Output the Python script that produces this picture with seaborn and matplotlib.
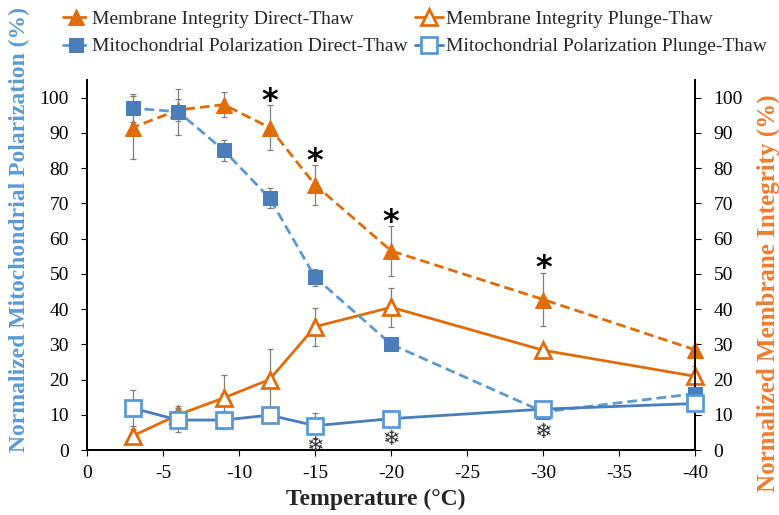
"""
Membrane integrity and mitochondrial polarization vs. temperature.
"""

import matplotlib
matplotlib.use("Agg")
import matplotlib.pyplot as plt
import seaborn as sns
import pandas as pd

# data
temps = [-3, -6, -9, -12, -15, -20, -30, -40]

mito_direct = [97.0, 96.0, 85.0, 71.5, 49.0, 30.0, 10.8, 16.0]
mito_direct_err = [4.0, 6.5, 3.0, 2.8, 2.5, 1.0, 1.0, 1.0]
mito_plunge = [11.9, 8.5, 8.5, 9.9, 6.9, 8.9, 11.6, 13.2]
mito_plunge_err = [5.0, 3.5, 2.5, 2.0, 3.5, 1.0, 1.0, 1.0]

memb_direct = [91.5, 96.5, 98.0, 91.5, 75.2, 56.5, 42.7, 28.4]
memb_direct_err = [9.0, 3.0, 3.5, 6.5, 5.6, 7.0, 7.5, 1.0]
memb_plunge = [4.0, 10.0, 14.8, 20.0, 35.0, 40.5, 28.3, 20.9]
memb_plunge_err = [2.0, 2.5, 6.5, 8.7, 5.4, 5.6, 1.0, 3.0]

star_temps = [-12, -15, -20, -30]
star_y = [99.0, 82.0, 64.5, 51.5]
flake_temps = [-15, -20, -30]
flake_y = [1.0, 3.2, 5.0]

BLUE = "#4A7EBB"
BLUE_LIGHT = "#5B9BD5"
ORANGE = "#E36C0A"
GREY = "#808080"

sns.set_theme(style="white")
plt.rcParams["font.family"] = ["Liberation Serif", "DejaVu Sans"]

fig = plt.figure(figsize=(7.79, 5.15), dpi=100)
ax = fig.add_axes([0.1117, 0.1262, 0.781, 0.7185])
ax2 = ax.twinx()
# mitochondrial series drawn on top
ax.set_zorder(ax2.get_zorder() + 1)
ax.patch.set_visible(False)

df = pd.DataFrame({"temp": temps, "mito_d": mito_direct, "mito_p": mito_plunge,
                   "memb_d": memb_direct, "memb_p": memb_plunge})

# error bars first, behind the markers
ekw = dict(fmt="none", ecolor=GREY, elinewidth=0.9, capsize=2.5, capthick=0.9, zorder=1)
ax.errorbar(temps, mito_direct, yerr=mito_direct_err, **ekw)
ax.errorbar(temps, mito_plunge, yerr=mito_plunge_err, **ekw)
ax2.errorbar(temps, memb_direct, yerr=memb_direct_err, **ekw)
ax2.errorbar(temps, memb_plunge, yerr=memb_plunge_err, **ekw)

sns.lineplot(data=df, x="temp", y="mito_d", ax=ax, color=BLUE_LIGHT, linestyle=(0, (3.5, 1.8)),
             linewidth=2, marker="s", markersize=10, markerfacecolor=BLUE, markeredgecolor=BLUE,
             label="Mitochondrial Polarization Direct-Thaw", zorder=3, clip_on=False)
sns.lineplot(data=df, x="temp", y="mito_p", ax=ax, color=BLUE, linewidth=2, marker="s",
             markersize=11, markerfacecolor="white", markeredgecolor=BLUE_LIGHT, markeredgewidth=2,
             label="Mitochondrial Polarization Plunge-Thaw", zorder=3, clip_on=False)
sns.lineplot(data=df, x="temp", y="memb_d", ax=ax2, color=ORANGE, linestyle=(0, (3.5, 1.8)),
             linewidth=2, marker="^", markersize=11, markerfacecolor=ORANGE, markeredgecolor=ORANGE,
             label="Membrane Integrity Direct-Thaw", zorder=3, clip_on=False)
sns.lineplot(data=df, x="temp", y="memb_p", ax=ax2, color=ORANGE, linewidth=2, marker="^",
             markersize=12, markerfacecolor="white", markeredgecolor=ORANGE, markeredgewidth=2,
             label="Membrane Integrity Plunge-Thaw", zorder=3, clip_on=False)

# significance marks
for t, y in zip(star_temps, star_y):
    ax2.text(t, y, "*", ha="center", va="center", fontsize=23, fontweight="bold",
             family="DejaVu Sans", color="black")
for t, y in zip(flake_temps, flake_y):
    ax.text(t, y, "\u2744", ha="center", va="center", fontsize=15,
            family="DejaVu Sans", color="#333333")

for a in (ax, ax2):
    a.set_xlim(0, -40)
    a.set_ylim(0, 105)
    a.set_yticks(range(0, 101, 10))
    a.tick_params(labelsize=14, length=4, width=0.8, direction="out", colors="black")
    a.spines["top"].set_visible(False)
    for s in ("left", "right", "bottom"):
        a.spines[s].set_color("black")

ax.set_xticks(range(0, -41, -5))
ax.set_xticklabels([str(v) for v in range(0, -41, -5)])
ax.tick_params(axis="y", left=True, right=False, pad=9)
ax2.tick_params(axis="y", right=True, left=False, pad=9)
ax.tick_params(axis="x", bottom=True, pad=7)

ax.set_xlabel("Temperature (\u00b0C)", fontsize=17, fontweight="bold")
ax.xaxis.set_label_coords(0.474, -0.105)
ax.set_ylabel("Normalized Mitochondrial Polarization (%)", fontsize=17,
              fontweight="bold", color=BLUE_LIGHT)
ax.yaxis.set_label_coords(-0.093, 0.595)
ax2.set_ylabel("Normalized Membrane Integrity (%)", fontsize=18,
               fontweight="bold", color="#ED7D31")
ax2.yaxis.set_label_coords(1.1, 0.425)

# combined legend on top, two columns
h1, l1 = ax.get_legend_handles_labels()
h2, l2 = ax2.get_legend_handles_labels()
ax.get_legend().remove()
ax2.get_legend().remove()
handles = [h2[0], h1[0], h2[1], h1[1]]
labels = [l2[0], l1[0], l2[1], l1[1]]
fig.legend(handles, labels, ncol=2, loc="upper left", bbox_to_anchor=(0.062, 1.006),
           frameon=False, fontsize=14, handlelength=1.4, handletextpad=0.15,
           columnspacing=0.4, labelspacing=0.5, borderaxespad=0.3)

fig.savefig("out.png", dpi=100)
